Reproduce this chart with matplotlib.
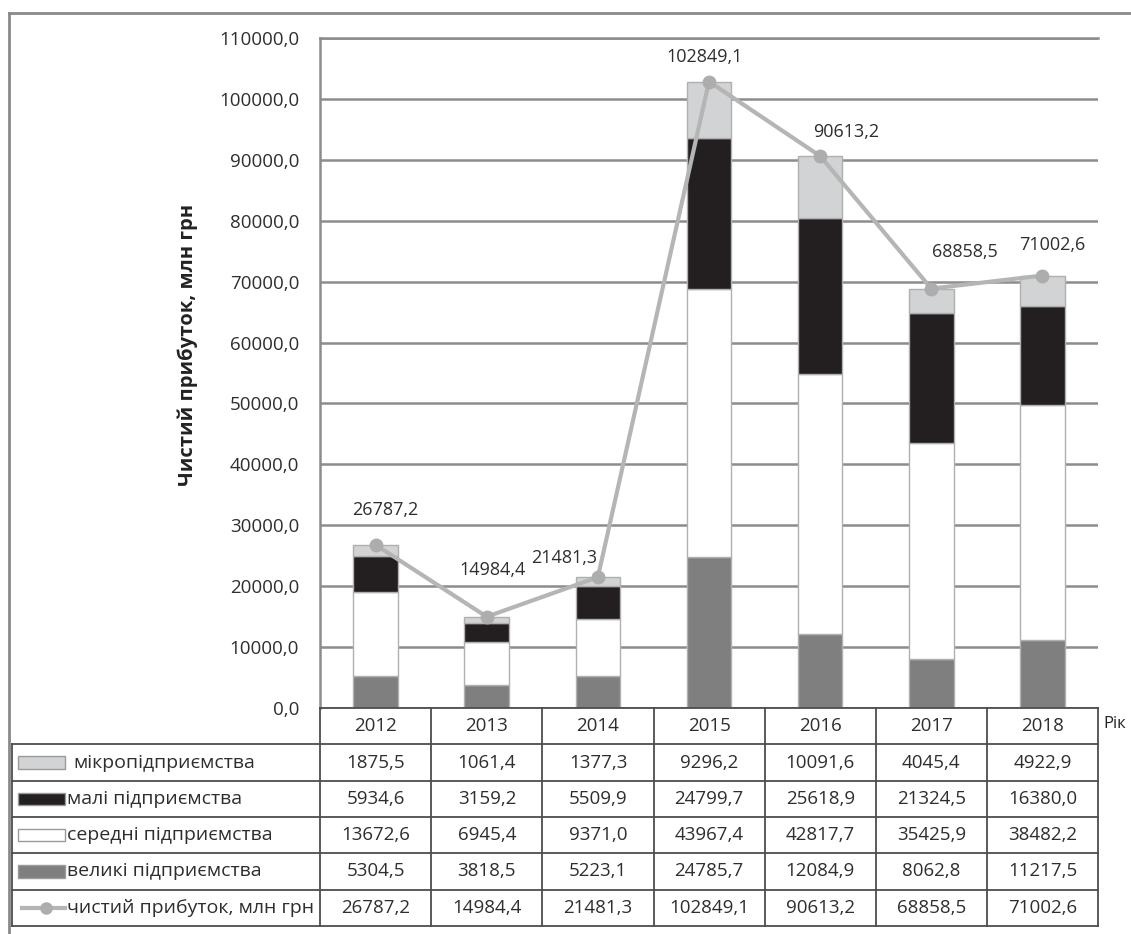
import numpy as np
import matplotlib

matplotlib.use('Agg')

import matplotlib.pyplot as plt
from matplotlib.patches import Rectangle
from matplotlib.lines import Line2D

plt.rcParams['font.family'] = ['Open Sans', 'DejaVu Sans']

years = ['2012', '2013', '2014', '2015', '2016', '2017', '2018']
micro = [1875.5, 1061.4, 1377.3, 9296.2, 10091.6, 4045.4, 4922.9]
small = [5934.6, 3159.2, 5509.9, 24799.7, 25618.9, 21324.5, 16380.0]
medium = [13672.6, 6945.4, 9371.0, 43967.4, 42817.7, 35425.9, 38482.2]
large = [5304.5, 3818.5, 5223.1, 24785.7, 12084.9, 8062.8, 11217.5]
total = [26787.2, 14984.4, 21481.3, 102849.1, 90613.2, 68858.5, 71002.6]

names = ['мікропідприємства', 'малі підприємства', 'середні підприємства',
         'великі підприємства', 'чистий прибуток, млн грн']

# label offsets (points) for the net profit annotations
offs = [(7, 25), (4, 34), (-24, 14), (-3, 18), (19, 17), (24, 26), (7, 22)]


def fmt(v):
    return f'{v:.1f}'.replace('.', ',')


W, H = 1131, 934
fs = 13
tc = '#2e2e2e'
fig = plt.figure(figsize=(W / 100, H / 100), dpi=100)

# frame around the picture
fig.add_artist(Line2D([9 / W, 1], [1 - 13 / H, 1 - 13 / H], color='#8a8a8a', lw=2))
fig.add_artist(Line2D([9 / W, 9 / W], [0, 1 - 13 / H], color='#8a8a8a', lw=2))

ax = fig.add_axes([320 / W, (H - 708) / H, (1098 - 320) / W, (708 - 38) / H])
x = np.arange(len(years))
bw = 0.4
ec = '#b0b0b0'
c_large, c_med, c_small, c_micro = '#7f7f7f', '#ffffff', '#231f20', '#d1d3d4'

b1 = np.array(large)
b2 = b1 + np.array(medium)
b3 = b2 + np.array(small)
ax.bar(x, large, bw, color=c_large, edgecolor=ec, lw=1, zorder=2)
ax.bar(x, medium, bw, bottom=b1, color=c_med, edgecolor=ec, lw=1, zorder=2)
ax.bar(x, small, bw, bottom=b2, color=c_small, edgecolor=ec, lw=1, zorder=2)
ax.bar(x, micro, bw, bottom=b3, color=c_micro, edgecolor=ec, lw=1, zorder=2)

ax.plot(x, total, color='#b5b5b5', lw=3, marker='o', ms=9,
        mfc='#adadad', mec='#adadad', zorder=4)
for i, v in enumerate(total):
    ax.annotate(fmt(v), (x[i], v), xytext=offs[i], textcoords='offset points',
                ha='center', va='center', fontsize=fs, color=tc, zorder=5)

ax.set_xlim(-0.5, 6.5)
ax.set_ylim(0, 110000)
ax.set_yticks(np.arange(0, 110001, 10000))
ax.set_yticklabels([fmt(v) for v in np.arange(0, 110001, 10000)],
                   fontsize=13.5, color=tc)
ax.set_xticks([])
ax.tick_params(axis='y', length=0, pad=15)
ax.grid(axis='y', color='#8c8c8c', lw=1.8, zorder=0)
ax.set_axisbelow(True)
for s in ['right', 'bottom']:
    ax.spines[s].set_visible(False)
ax.spines['top'].set_color('#8c8c8c')
ax.spines['top'].set_linewidth(1.8)
ax.spines['left'].set_color('#8c8c8c')
ax.spines['left'].set_linewidth(1.8)

fig.text(188 / W, 1 - 345 / H, 'Чистий прибуток, млн грн', rotation=90,
         ha='center', va='center', fontsize=14.5, fontweight='bold', color='#222222')
fig.text(1103 / W, 1 - 724 / H, 'Рік', ha='left', va='center',
         fontsize=12, color='#222222')

# data table under the chart
lab_w = (320 - 12) / 111.0
tx = fig.add_axes([12 / W, (H - 926) / H, (1098 - 12) / W, (926 - 708) / H])
x0 = -0.5 - lab_w
tx.set_xlim(x0, 6.5)
tx.set_ylim(6, 0)
tx.axis('off')
lc = '#4d4d4d'
tx.plot([-0.5, 6.5], [0, 0], color=lc, lw=1.3, clip_on=False)
for r in range(1, 7):
    tx.plot([x0, 6.5], [r, r], color=lc, lw=1.3, clip_on=False)
tx.plot([x0, x0], [1, 6], color=lc, lw=1.3, clip_on=False)
for k in range(8):
    tx.plot([-0.5 + k, -0.5 + k], [0, 6], color=lc, lw=1.3, clip_on=False)

for i, yr in enumerate(years):
    tx.text(i, 0.5, yr, ha='center', va='center', fontsize=13.5, color=tc)

rows = [micro, small, medium, large, total]
fills = [c_micro, c_small, c_med, c_large]
sw0 = x0 + 6 / 111.0
sw_w = 47 / 111.0
for r, (nm, vals) in enumerate(zip(names, rows)):
    yc = r + 1.5
    if r < 4:
        tx.add_patch(Rectangle((sw0, yc - 0.17), sw_w, 0.34, facecolor=fills[r],
                               edgecolor='#9a9a9a', lw=1))
    else:
        tx.plot([sw0 + 4 / 111.0, sw0 + sw_w], [yc, yc], color='#b5b5b5', lw=3)
        tx.plot([sw0 + 0.6 * sw_w], [yc], 'o', color='#adadad', ms=8)
    tx.text(sw0 + sw_w + (8 if r == 0 else 2) / 111.0, yc, nm, ha='left', va='center',
            fontsize=14, color=tc)
    for i, v in enumerate(vals):
        tx.text(i, yc, fmt(v), ha='center', va='center', fontsize=13.5, color=tc)

plt.savefig('out.png', dpi=100)
plt.close()
